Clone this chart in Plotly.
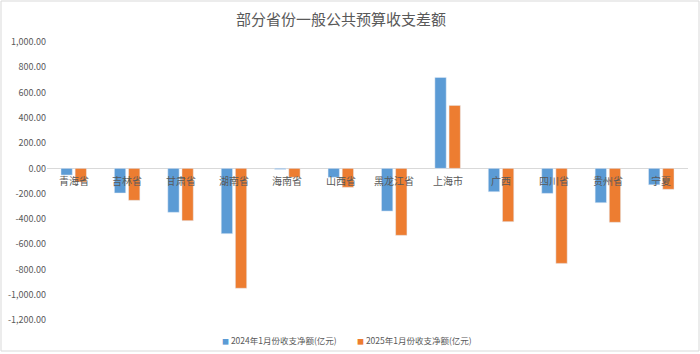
import plotly.graph_objects as go

categories = ["青海省", "吉林省", "甘肃省", "湖南省", "海南省", "山西省",
              "黑龙江省", "上海市", "广西", "四川省", "贵州省", "宁夏"]
net_2024 = [-53, -195, -348, -517, -8, -71, -338, 720, -185, -198, -272, -130]
net_2025 = [-108, -253, -414, -949, -71, -150, -530, 498, -422, -752, -427, -166]
series_names = ["2024年1月份收支净额(亿元)", "2025年1月份收支净额(亿元)"]
series_colors = ["#5B9BD5", "#ED7D31"]
tick_vals = [1000, 800, 600, 400, 200, 0, -200, -400, -600, -800, -1000, -1200]
tick_text = ["1,000.00", "800.00", "600.00", "400.00", "200.00", "0.00",
             "-200.00", "-400.00", "-600.00", "-800.00", "-1,000.00", "-1,200.00"]
title_text = "部分省份一般公共预算收支差额"

FONT = "Noto Sans CJK SC"
GRAY = "#595959"
PL, PR, PT, PB = 47, 12, 42, 34
PW, PH = 700 - PL - PR, 354 - PT - PB

fig = go.Figure()
fig.add_trace(go.Bar(x=categories, y=net_2024, name=series_names[0], marker_color=series_colors[0]))
fig.add_trace(go.Bar(x=categories, y=net_2025, name=series_names[1], marker_color=series_colors[1]))

for c in categories:
    fig.add_annotation(x=c, y=0, xref="x", yref="y", text=c, showarrow=False,
                       yanchor="top", yshift=-3, font=dict(size=10, color=GRAY, family=FONT))

# legend built from the series names (small square markers like the original)
legend_px = [279, 414]
for name, color, px in zip(series_names, series_colors, legend_px):
    fig.add_annotation(x=(px - PL) / PW, y=-(340 - (354 - PB)) / PH, xref="paper", yref="paper",
                       text=f"<span style='color:{color};font-size:7px'>■</span> {name}",
                       showarrow=False, xanchor="center", yanchor="middle",
                       font=dict(size=8.5, color=GRAY, family=FONT))

fig.add_shape(type="rect", xref="paper", yref="paper", x0=-(PL - 1) / PW, x1=1 + (PR - 1) / PW,
              y0=-(PB - 3) / PH, y1=1 + (PT - 1) / PH,
              line=dict(color="#D9D9D9", width=1), fillcolor="rgba(0,0,0,0)", layer="below")

fig.update_layout(
    width=700, height=354,
    margin=dict(l=PL, r=PR, t=PT, b=PB, autoexpand=False),
    paper_bgcolor="white", plot_bgcolor="white",
    barmode="group", bargap=0.47, bargroupgap=0.2,
    font=dict(family=FONT, color=GRAY, size=9),
    title=dict(text=title_text, x=341 / 700, xref="container", xanchor="center",
               y=1 - 20 / 354, yref="container", yanchor="middle",
               font=dict(size=15, color=GRAY, family=FONT)),
    showlegend=False,
)
fig.update_xaxes(showticklabels=False, showgrid=False, showline=False, zeroline=False,
                 range=[-0.5, len(categories) - 0.5])
fig.update_yaxes(range=[-1200, 1000], tickvals=tick_vals, ticktext=tick_text,
                 showgrid=False, zeroline=True, zerolinecolor="#D9D9D9", zerolinewidth=1,
                 showline=False, tickfont=dict(size=9, color=GRAY, family=FONT), ticks="")

fig.write_html("out.html")
